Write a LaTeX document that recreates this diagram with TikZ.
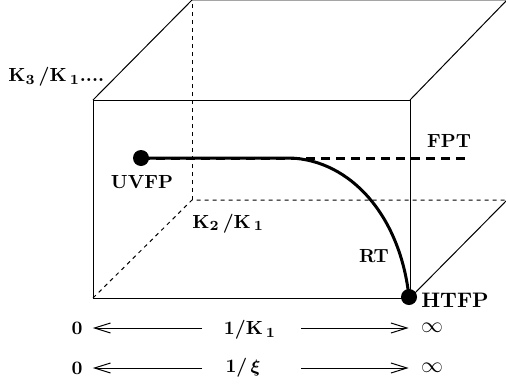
\documentclass[tikz,border=0pt]{standalone}
\usetikzlibrary{arrows.meta}
\tikzset{
  edge/.style={line width=0.5pt},
  hidden/.style={line width=0.5pt, dash pattern=on 2pt off 2pt},
  flow/.style={line width=1.5pt},
  fptline/.style={line width=1.5pt, dash pattern=on 4.5pt off 3pt},
  lab/.style={font=\fontsize{9.5}{11}\selectfont\bfseries\boldmath, inner sep=0pt},
  biglab/.style={font=\fontsize{10.5}{12}\selectfont\bfseries, inner sep=0pt},
  fixpt/.style={circle, fill=black, inner sep=0pt, minimum size=8pt},
  limarr/.style={line width=0.5pt, -{Straight Barb[length=8pt,width=5pt]}}
}

\begin{document}
\begin{tikzpicture}[x=0.5pt,y=-0.5pt]
  \useasboundingbox (0,0) rectangle (506,385);
  % the box
  \coordinate (fbl) at (93,298);
  \coordinate (fbr) at (410,298);
  \coordinate (ftr) at (410,100);
  \coordinate (ftl) at (93,100);
  \coordinate (bbl) at (192,200);
  \coordinate (bbr) at (507,200);
  \coordinate (btl) at (192,0);
  \coordinate (btr) at (507,0);
  \draw[edge] (fbl) rectangle (ftr);
  \draw[edge] (ftl) -- (btl) -- (btr);
  \draw[edge] (ftr) -- (btr);
  \draw[edge] (fbr) -- (bbr);
  \draw[hidden] (fbl) -- (bbl) -- (bbr);
  \draw[hidden] (bbl) -- (btl);

  % fixed points and flow
  \node[fixpt] (uvfp) at (141,158) {};
  \node[fixpt] (htfp) at (409,297) {};
  \coordinate (fptend) at (467,158);
  \coordinate (bend) at (290,158);
  \draw[fptline] (uvfp.center) -- (fptend);
  \draw[flow] (uvfp.center) -- (bend) .. controls (350,160) and (400,215) .. (htfp.center);

  \node[lab] (uvfplab) at (142,182) {UVFP};
  \node[biglab] (htfplab) at (455,300) {HTFP};
  \node[lab] (fptlab) at (449,141) {FPT};
  \node[lab] (rtlab) at (374,256) {RT};
  \node[lab, anchor=base west] (ktwo) at (192,228) {K$_2$\,/K$_{\,1}$};
  \node[lab, anchor=base west] (kthree) at (8,82) {K$_3$\,/K$_{\,1}$....};

  % limits
  \node[lab] (invk) at (250,330) {1/K$_{\,1}$};
  \node[lab] (invxi) at (243,368) {1/\,$\xi$};
  \foreach \row/\yy in {A/328,B/368} {
    \node[lab] (zero\row) at (77,\yy) {0};
    \node[font=\fontsize{10.5}{12}\selectfont, inner sep=0pt] (inf\row) at (432,\yy) {$\infty$};
    \coordinate (ls\row) at (202,\yy);
    \coordinate (rs\row) at (301,\yy);
    \draw[limarr, shorten >=5pt] (ls\row) -- (zero\row);
    \draw[limarr, shorten >=6pt] (rs\row) -- (inf\row);
  }
\end{tikzpicture}
\end{document}
